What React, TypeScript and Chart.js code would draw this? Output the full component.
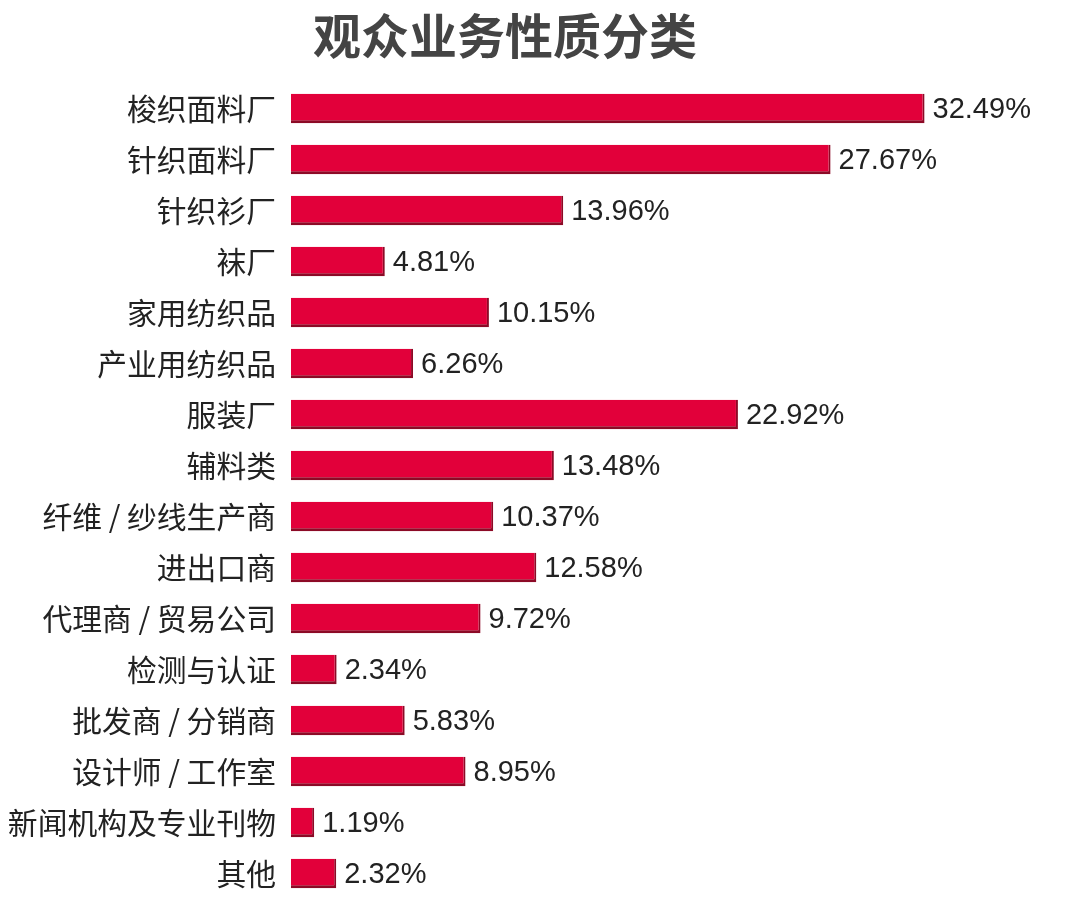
import React, { useEffect, useRef } from "react";
import { Chart, registerables } from "chart.js";

Chart.register(...registerables);

const titleText = "观众业务性质分类";
const categories = [
  "梭织面料厂",
  "针织面料厂",
  "针织衫厂",
  "袜厂",
  "家用纺织品",
  "产业用纺织品",
  "服装厂",
  "辅料类",
  "纤维 / 纱线生产商",
  "进出口商",
  "代理商 / 贸易公司",
  "检测与认证",
  "批发商 / 分销商",
  "设计师 / 工作室",
  "新闻机构及专业刊物",
  "其他",
];
const values = [32.49, 27.67, 13.96, 4.81, 10.15, 6.26, 22.92, 13.48, 10.37, 12.58, 9.72, 2.34, 5.83, 8.95, 1.19, 2.32];

const valueLabelPlugin = {
  id: "valueLabels",
  afterDatasetsDraw(chart: any) {
    const ctx = chart.ctx;
    const meta = chart.getDatasetMeta(0);
    ctx.save();
    ctx.font = '29px "Liberation Sans", Arial, sans-serif';
    ctx.fillStyle = "#222222";
    ctx.textAlign = "left";
    ctx.textBaseline = "middle";
    meta.data.forEach((bar: any, i: number) => {
      const v = chart.data.datasets[0].data[i] as number;
      ctx.fillText(v.toFixed(2) + "%", bar.x + 8, bar.y + 1);
    });
    ctx.restore();
  },
};

const titlePlugin = {
  id: "offsetTitle",
  afterDraw(chart: any) {
    const ctx = chart.ctx;
    ctx.save();
    ctx.font = 'bold 48px "Noto Sans CJK SC", sans-serif';
    ctx.fillStyle = "#444444";
    ctx.textAlign = "center";
    ctx.textBaseline = "middle";
    ctx.fillText(titleText, 505, 36);
    ctx.restore();
  },
};

export default function App() {
  const ref = useRef<HTMLCanvasElement>(null);
  useEffect(() => {
    if (!ref.current) return;
    const chart = new Chart(ref.current, {
      type: "bar",
      data: {
        labels: categories,
        datasets: [
          {
            data: values,
            backgroundColor: "#e2003a",
            borderColor: "#8c0a26",
            borderWidth: { top: 0, left: 0, right: 2, bottom: 3 } as any,
            borderSkipped: false,
            categoryPercentage: 1,
            barPercentage: 0.58,
          },
        ],
      },
      options: {
        indexAxis: "y",
        responsive: false,
        animation: false,
        layout: { padding: { left: 0, right: 9, top: 83, bottom: 0 } },
        plugins: {
          legend: { display: false },
          tooltip: { enabled: false },
          title: { display: false },
        },
        scales: {
          x: {
            display: false,
            min: 0,
            max: 40,
          },
          y: {
            grid: { display: false, drawTicks: false },
            border: { display: false },
            afterFit(scale: any) {
              scale.width = 291;
              scale.paddingTop = 0;
              scale.paddingBottom = 0;
            },
            ticks: {
              color: "#222222",
              padding: 15,
              font: { size: 29.8, family: '"Noto Sans CJK SC", sans-serif' },
            },
          },
        },
      },
      plugins: [valueLabelPlugin, titlePlugin],
    });
    return () => chart.destroy();
  }, []);
  return (
    <div style={{ position: "absolute", left: 0, top: 0, width: 1080, height: 899, background: "#fff" }}>
      <canvas ref={ref} width={1080} height={899} style={{ width: 1080, height: 899 }} />
    </div>
  );
}
